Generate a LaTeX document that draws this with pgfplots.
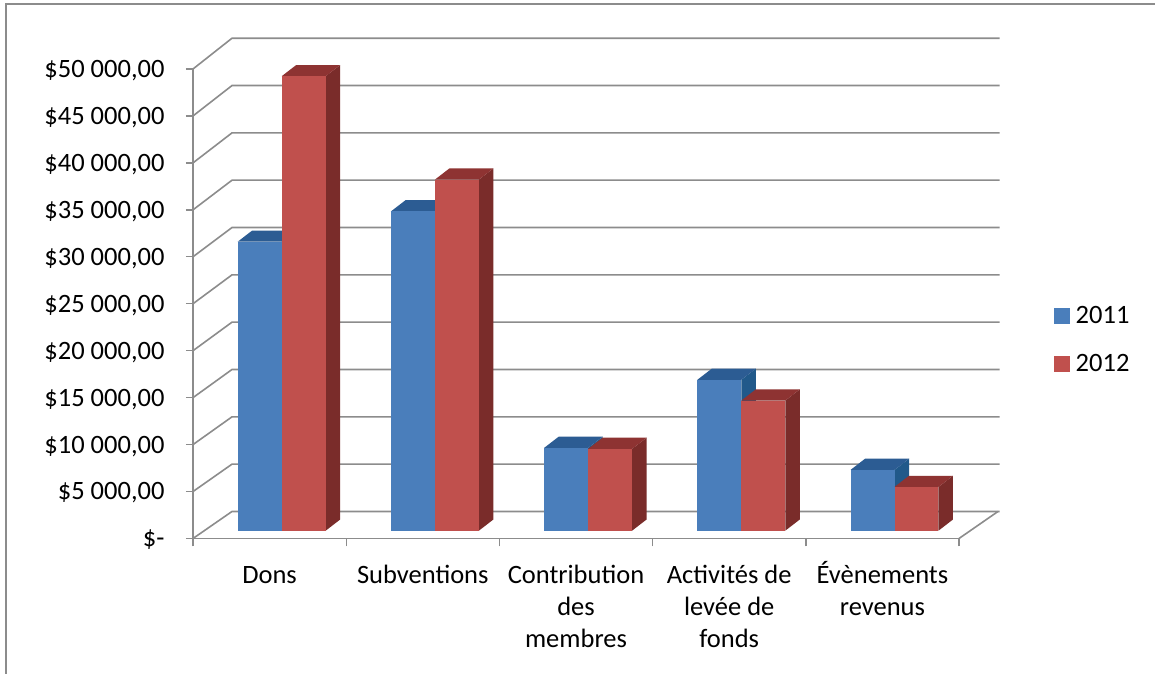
\documentclass[border=0pt]{standalone}
\usepackage{pgfplots}
\pgfplotsset{compat=1.18}
\usepackage{fontspec}
\setmainfont{Carlito}
\definecolor{gridc}{HTML}{8C8C8C}
\definecolor{bluefront}{HTML}{4A7EBB}
\definecolor{blueside}{HTML}{21598A}
\definecolor{bluetop}{HTML}{2C5C93}
\definecolor{redfront}{HTML}{C0504D}
\definecolor{redside}{HTML}{7A2C2A}
\definecolor{redtop}{HTML}{8E3332}
\newcommand\bigcalc[2]{\begingroup\pgfkeys{/pgf/fpu=true,/pgf/fpu/output format=fixed}\pgfmathparse{#2}\global\let#1\pgfmathresult\endgroup}
% #1 category, #2 series index, #3 value, #4 front, #5 side, #6 top
\newcommand\barthree[6]{%
  \pgfmathsetmacro\xa{#1+0.292+#2*0.287}%
  \pgfmathsetmacro\xb{\xa+0.287}%
  \pgfmathsetmacro\xc{\xa+0.0946}%
  \pgfmathsetmacro\xd{\xb+0.0946}%
  \bigcalc\ya{832}\bigcalc\yb{832+#3}\bigcalc\yc{832+1190}\bigcalc\yd{832+1190+#3}%
  \edef\temp{\noexpand\addplot[draw=none,fill=#5,forget plot] coordinates {(\xb,\ya) (\xd,\yc) (\xd,\yd) (\xb,\yb)} --cycle;
  \noexpand\addplot[draw=none,fill=#6,forget plot] coordinates {(\xa,\yb) (\xc,\yd) (\xd,\yd) (\xb,\yb)} --cycle;
  \noexpand\addplot[draw=none,fill=#4,forget plot] coordinates {(\xa,\ya) (\xb,\ya) (\xb,\yb) (\xa,\yb)} --cycle;}\temp}
\newcommand\fl{\rule{0pt}{24bp}}
\begin{document}
\begin{tikzpicture}
\useasboundingbox (0,0) rectangle (1155bp,674bp);
\fill[white] (0,0) rectangle (1155bp,674bp);
\draw[gridc,line width=2bp] (6bp,0) -- (6bp,670bp) -- (1155bp,670bp);
\begin{axis}[
  at={(193bp,135.5bp)},anchor=south west,
  scale only axis,width=766bp,height=469.5bp,
  xmin=0,xmax=5,ymin=0,ymax=50000,
  clip=false,
  scaled y ticks=false,
  axis x line*=bottom,axis y line*=left,
  axis line style={gridc,line width=1.6bp,-},
  xtick={0.5,1.5,2.5,3.5,4.5},
  minor xtick={0,1,2,3,4,5},
  major x tick style={draw=none},
  minor x tick style={gridc,line width=1.4bp},
  minor tick length=8bp,
  major tick length=7bp,
  y tick style={gridc,line width=1.4bp},
  tick align=outside,
  ytick={0,5000,10000,15000,20000,25000,30000,35000,40000,45000,50000},
  yticklabels={{\$-},{\$5 000,00},{\$10 000,00},{\$15 000,00},{\$20 000,00},{\$25 000,00},{\$30 000,00},{\$35 000,00},{\$40 000,00},{\$45 000,00},{\$50 000,00}},
  xticklabels={{\fl Dons},{\fl Subventions},{\fl Contribution\\des\\membres},{\fl Activités de\\levée de\\fonds},{\fl Évènements\\revenus}},
  x tick label style={font=\fontsize{26.6}{32}\selectfont,align=center,anchor=north,yshift=-10.5bp},
  y tick label style={font=\fontsize{26.6}{30}\selectfont,anchor=east,xshift=-18bp,yshift=-1.5bp},
  legend style={at={(axis description cs:1.1195,0.423)},anchor=west,draw=none,fill=none,
    font=\fontsize{26.6}{30}\selectfont,row sep=29.3bp,nodes={inner sep=0pt}},
  legend cell align=left,
]
\pgfplotsinvokeforeach{0,5000,10000,15000,20000,25000,30000,35000,40000,45000,50000}{
  \bigcalc\yg{2878+1.008*#1}
  \edef\temp{\noexpand\addplot[gridc,line width=1.6bp,forget plot] coordinates {(0,#1) (0.2546,\yg) (5.2646,\yg)};}\temp
}
\addplot[gridc,line width=1.6bp,forget plot] coordinates {(5,0) (5.2546,2878)};
\barthree{0}{0}{30778}{bluefront}{blueside}{bluetop}
\barthree{0}{1}{48401}{redfront}{redside}{redtop}
\barthree{1}{0}{34000}{bluefront}{blueside}{bluetop}
\barthree{1}{1}{37388}{redfront}{redside}{redtop}
\barthree{2}{0}{8817}{bluefront}{blueside}{bluetop}
\barthree{2}{1}{8710}{redfront}{redside}{redtop}
\barthree{3}{0}{16066}{bluefront}{blueside}{bluetop}
\barthree{3}{1}{13859}{redfront}{redside}{redtop}
\barthree{4}{0}{6471}{bluefront}{blueside}{bluetop}
\barthree{4}{1}{4659}{redfront}{redside}{redtop}
\addlegendimage{only marks,mark=square*,mark size=7.5bp,color=bluefront}
\addlegendentry{\hspace{7bp}2011}
\addlegendimage{only marks,mark=square*,mark size=7.5bp,color=redfront}
\addlegendentry{\hspace{7bp}2012}
\end{axis}
\end{tikzpicture}
\end{document}
